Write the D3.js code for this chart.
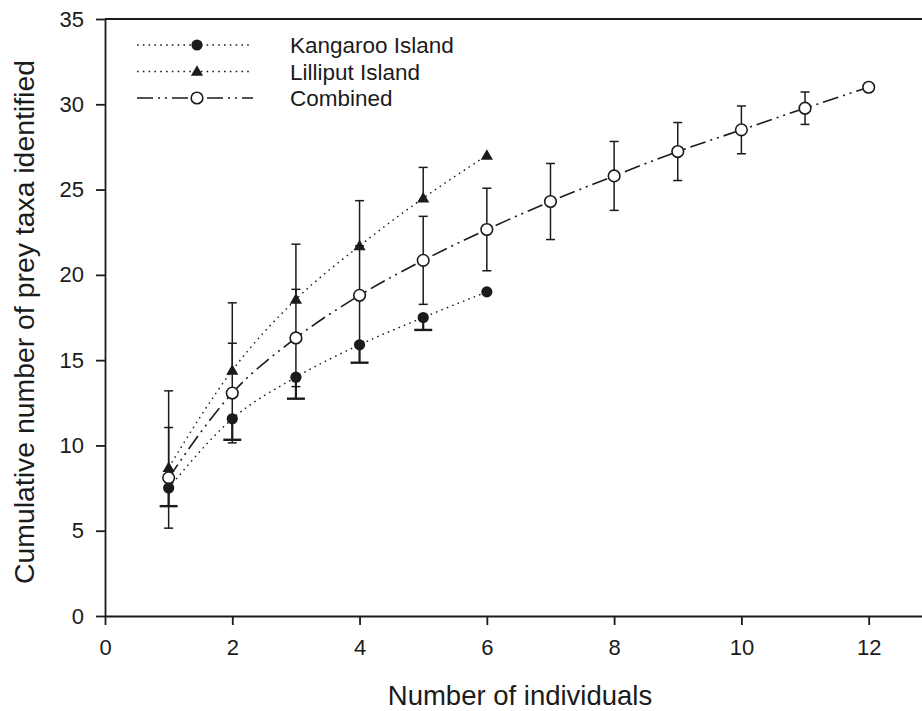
<!DOCTYPE html>
<html>
<head>
<meta charset="utf-8">
<script src="https://cdn.jsdelivr.net/npm/d3@7"></script>
<style>
  html, body { margin: 0; padding: 0; background: #fff; }
  svg { display: block; font-family: "Liberation Sans", Arial, sans-serif; }
</style>
</head>
<body>
<svg id="chart" width="922" height="711"></svg>
<script>
// Species accumulation: mean cumulative prey taxa vs number of individuals sampled
const individuals = [1, 2, 3, 4, 5, 6, 7, 8, 9, 10, 11, 12];

const kangarooMean = [7.5, 11.56, 14.0, 15.9, 17.5, 19.0];
const kangarooSD   = [1.06, 1.23, 1.26, 1.05, 0.73, null];

const lilliputMean = [8.7, 14.4, 18.56, 21.7, 24.5, 27.0];
const lilliputSD   = [4.5, 3.96, 3.24, 2.65, 1.8, null];

const combinedMean = [8.1, 13.07, 16.3, 18.8, 20.85, 22.66, 24.3, 25.8, 27.23, 28.5, 29.77, 31.0];
const combinedSD   = [2.95, 2.92, 2.85, 2.9, 2.58, 2.42, 2.23, 2.02, 1.7, 1.4, 0.95, null];

const xTicks = [0, 2, 4, 6, 8, 10, 12];
const yTicks = [0, 5, 10, 15, 20, 25, 30, 35];

const legendLabels = ["Kangaroo Island", "Lilliput Island", "Combined"];

const svg = d3.select("#chart");
const ink = "#1b1b1b";

const x = d3.scaleLinear().domain([0, 13]).range([105, 105 + 13 * 63.64]);
const y = d3.scaleLinear().domain([0, 35]).range([616, 19]);

// Axes
const xAxis = d3.axisBottom(x).tickValues(xTicks).tickSize(9).tickSizeOuter(0).tickPadding(14);
const yAxis = d3.axisLeft(y).tickValues(yTicks).tickSize(9).tickSizeOuter(0).tickPadding(12);

const gx = svg.append("g").attr("transform", `translate(0,${y(0)})`).call(xAxis);
const gy = svg.append("g").attr("transform", `translate(${x(0)},0)`).call(yAxis);
[gx, gy].forEach(g => {
  g.selectAll("path, line").attr("stroke", ink).attr("stroke-width", 1.8);
  g.selectAll("text").attr("fill", ink).style("font-size", "22px");
});

// top frame line
svg.append("line")
  .attr("x1", x(0)).attr("x2", x(13))
  .attr("y1", y(35)).attr("y2", y(35))
  .attr("stroke", ink).attr("stroke-width", 1.8);

// Axis titles
svg.append("text")
  .attr("x", 520).attr("y", 705)
  .attr("text-anchor", "middle")
  .style("font-size", "27.5px").attr("fill", ink)
  .text("Number of individuals");

svg.append("text")
  .attr("transform", "translate(34,322) rotate(-90)")
  .attr("text-anchor", "middle")
  .style("font-size", "28.4px").attr("fill", ink)
  .text("Cumulative number of prey taxa identified");

const toPts = (means) => means.map((v, i) => ({ n: individuals[i], v }));
const kPts = toPts(kangarooMean);
const lPts = toPts(lilliputMean);
const cPts = toPts(combinedMean);

const line = d3.line().x(d => x(d.n)).y(d => y(d.v)).curve(d3.curveMonotoneX);

const dotted = "1.6,4.2";
const dashDotDot = "16,5,2,5,2,5";

svg.append("path").datum(kPts).attr("d", line)
  .attr("fill", "none").attr("stroke", ink).attr("stroke-width", 1.4)
  .attr("stroke-dasharray", dotted);
svg.append("path").datum(lPts).attr("d", line)
  .attr("fill", "none").attr("stroke", ink).attr("stroke-width", 1.4)
  .attr("stroke-dasharray", dotted);
svg.append("path").datum(cPts).attr("d", line)
  .attr("fill", "none").attr("stroke", ink).attr("stroke-width", 1.6)
  .attr("stroke-dasharray", dashDotDot);

// Error bars
const eb = svg.append("g").attr("stroke", ink).attr("fill", "none");

// Combined: symmetric bars with caps at both ends
combinedSD.forEach((sd, i) => {
  if (sd == null) return;
  const cx = x(individuals[i]);
  const hi = y(combinedMean[i] + sd), lo = y(combinedMean[i] - sd);
  eb.append("line").attr("x1", cx).attr("x2", cx).attr("y1", hi).attr("y2", lo).attr("stroke-width", 1.5);
  eb.append("line").attr("x1", cx - 4.5).attr("x2", cx + 4.5).attr("y1", hi).attr("y2", hi).attr("stroke-width", 1.5);
  eb.append("line").attr("x1", cx - 4.5).attr("x2", cx + 4.5).attr("y1", lo).attr("y2", lo).attr("stroke-width", 1.5);
});

// Lilliput: upper bars only
lilliputSD.forEach((sd, i) => {
  if (sd == null) return;
  const cx = x(individuals[i]);
  const hi = y(lilliputMean[i] + sd), c = y(lilliputMean[i]);
  eb.append("line").attr("x1", cx).attr("x2", cx).attr("y1", c).attr("y2", hi).attr("stroke-width", 1.5);
  eb.append("line").attr("x1", cx - 4.5).attr("x2", cx + 4.5).attr("y1", hi).attr("y2", hi).attr("stroke-width", 1.5);
});

// Kangaroo: lower bars only, wider caps
kangarooSD.forEach((sd, i) => {
  if (sd == null) return;
  const cx = x(individuals[i]);
  const lo = y(kangarooMean[i] - sd), c = y(kangarooMean[i]);
  eb.append("line").attr("x1", cx).attr("x2", cx).attr("y1", c).attr("y2", lo).attr("stroke-width", 2.2);
  eb.append("line").attr("x1", cx - 9).attr("x2", cx + 9).attr("y1", lo).attr("y2", lo).attr("stroke-width", 2.4);
});

// Markers
const tri = d3.symbol().type(d3.symbolTriangle).size(64);

function filledCircle(g, cx, cy) {
  g.append("circle").attr("cx", cx).attr("cy", cy).attr("r", 5.6).attr("fill", ink);
}
function triangle(g, cx, cy) {
  g.append("path").attr("d", tri()).attr("transform", `translate(${cx},${cy + 0.8})`).attr("fill", ink);
}
function openCircle(g, cx, cy) {
  g.append("circle").attr("cx", cx).attr("cy", cy).attr("r", 5.8)
    .attr("fill", "#fff").attr("stroke", ink).attr("stroke-width", 1.6);
}

const mk = svg.append("g");
cPts.forEach(d => openCircle(mk, x(d.n), y(d.v)));
lPts.forEach(d => triangle(mk, x(d.n), y(d.v)));
kPts.forEach(d => filledCircle(mk, x(d.n), y(d.v)));

// Legend
const legend = svg.append("g");
const rows = [45, 71.5, 98];
const styles = [
  { dash: dotted, w: 1.4, marker: filledCircle },
  { dash: dotted, w: 1.4, marker: triangle },
  { dash: dashDotDot, w: 1.6, marker: openCircle }
];
legendLabels.forEach((label, i) => {
  const ry = rows[i];
  legend.append("line")
    .attr("x1", 137).attr("x2", 253).attr("y1", ry).attr("y2", ry)
    .attr("stroke", ink).attr("stroke-width", styles[i].w)
    .attr("stroke-dasharray", styles[i].dash);
  styles[i].marker(legend, 197, ry);
  legend.append("text")
    .attr("x", 290).attr("y", ry + 8)
    .style("font-size", "22.5px").attr("fill", ink)
    .text(label);
});
</script>
</body>
</html>
